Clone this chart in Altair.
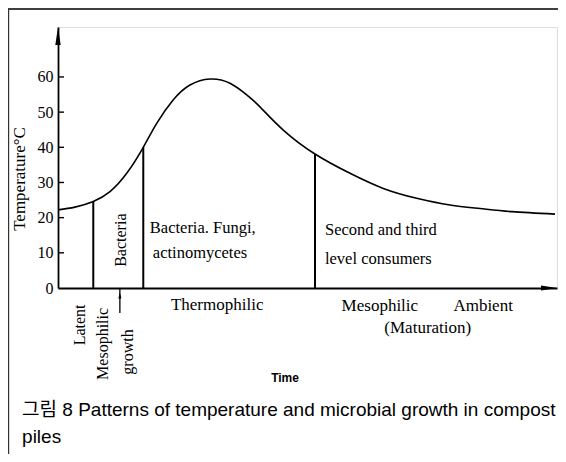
import altair as alt
import pandas as pd

# Curve: time (arbitrary units 0-100) vs temperature (deg C)
time_pts = [0, 3.4, 7.07, 10.42, 13.77, 17.09, 19.78, 23.11, 26.45, 30.46, 34.47, 37.82, 40.48,
            45.15, 51.5, 58.52, 65.19, 71.88, 78.56, 84.57, 91.0, 99.6]
temp_pts = [22.2, 23.0, 24.6, 27.4, 32.6, 40.0, 46.8, 53.5, 57.7, 59.4, 58.2, 54.9, 51.5,
            44.9, 38.1, 32.6, 28.3, 25.5, 23.6, 22.6, 21.7, 21.0]

# Phase boundaries (time, temperature at the curve)
bound_t = [7.07, 17.09, 51.5]
bound_temp = [24.6, 40.0, 38.1]

y_ticks = [10, 20, 30, 40, 50, 60]

# Horizontal labels inside / below plot
h_text = ["Bacteria. Fungi,", "actinomycetes", "Second and third", "level consumers"]
h_t = [18.4, 19.0, 53.5, 53.5]
h_temp = [17.1, 10.0, 16.5, 8.2]

c_text = ["Thermophilic", "Mesophilic", "Ambient", "(Maturation)"]
c_t = [31.9, 64.5, 85.2, 74.1]
c_temp = [-4.8, -5.1, -5.1, -11.4]

r_text = ["Bacteria", "Latent", "Mesophilic", "growth"]
r_t = [12.6, 4.4, 9.0, 14.0]
r_temp = [13.6, -10.5, -15.9, -18.2]

caption1 = "그림 8  Patterns of temperature and microbial growth in compost"
caption2 = "piles"

XMAX = 100
YMAX = 74.2
SERIF = "Liberation Serif"
SANS = "Liberation Sans, Noto Sans CJK KR"

xs = alt.Scale(domain=[0, XMAX], nice=False, zero=False)
ys = alt.Scale(domain=[0, YMAX], nice=False, zero=False)

curve_df = pd.DataFrame({"t": time_pts, "T": temp_pts})
bound_df = pd.DataFrame({"t": bound_t, "T": bound_temp, "z": [0] * 3})
tick_df = pd.DataFrame({"T": y_ticks, "a": [0] * 6, "b": [1.2] * 6})
h_df = pd.DataFrame({"txt": h_text, "t": h_t, "T": h_temp})
c_df = pd.DataFrame({"txt": c_text, "t": c_t, "T": c_temp})
r_df = pd.DataFrame({"txt": r_text, "t": r_t, "T": r_temp})

base_axes = alt.Chart(pd.DataFrame({"t": [0, XMAX], "T": [0, YMAX]})).mark_point(opacity=0).encode(
    x=alt.X("t:Q", scale=xs, axis=alt.Axis(title=None, labels=False, ticks=False, grid=False,
                                            domainColor="black", domainWidth=1.8)),
    y=alt.Y("T:Q", scale=ys, axis=alt.Axis(title=None, values=[0] + y_ticks, grid=False, tickSize=0,
                                            labelFont=SERIF, labelFontSize=16, labelColor="black",
                                            labelPadding=5, domainColor="black", domainWidth=1.8)),
)

curve = alt.Chart(curve_df).mark_line(color="black", strokeWidth=1.6, interpolate="natural").encode(
    x=alt.X("t:Q", scale=xs), y=alt.Y("T:Q", scale=ys))

bounds = alt.Chart(bound_df).mark_rule(color="black", strokeWidth=2).encode(
    x=alt.X("t:Q", scale=xs), y=alt.Y("z:Q", scale=ys), y2="T:Q")

ticks = alt.Chart(tick_df).mark_rule(color="black", strokeWidth=1.4).encode(
    x=alt.X("a:Q", scale=xs), x2="b:Q", y=alt.Y("T:Q", scale=ys))

arrow_y = alt.Chart(pd.DataFrame({"t": [0], "T": [YMAX]})).mark_point(
    shape="M0,0L0.3,2L-0.3,2Z", filled=True, color="black", opacity=1, size=324).encode(
    x=alt.X("t:Q", scale=xs), y=alt.Y("T:Q", scale=ys))

arrow_x = alt.Chart(pd.DataFrame({"t": [XMAX], "T": [0]})).mark_point(
    shape="M0,0L-2,-0.3L-2,0.3Z", filled=True, color="black", opacity=1, size=256).encode(
    x=alt.X("t:Q", scale=xs), y=alt.Y("T:Q", scale=ys))

growth_arrow = alt.Chart(pd.DataFrame({"t": [12.4], "a": [0], "b": [-7.1]})).mark_rule(
    color="black", strokeWidth=1.3).encode(x=alt.X("t:Q", scale=xs), y=alt.Y("a:Q", scale=ys), y2="b:Q")
growth_head = alt.Chart(pd.DataFrame({"t": [12.4], "T": [-1.3]})).mark_point(
    shape="M0,0L0.5,2L-0.5,2Z", filled=True, color="black", opacity=1, size=36).encode(
    x=alt.X("t:Q", scale=xs), y=alt.Y("T:Q", scale=ys))

h_txt = alt.Chart(h_df).mark_text(font=SERIF, fontSize=16.5, align="left", baseline="middle", color="black").encode(
    x=alt.X("t:Q", scale=xs), y=alt.Y("T:Q", scale=ys), text="txt:N")
c_txt = alt.Chart(c_df).mark_text(font=SERIF, fontSize=17, align="center", baseline="middle", color="black").encode(
    x=alt.X("t:Q", scale=xs), y=alt.Y("T:Q", scale=ys), text="txt:N")
r_txt = alt.Chart(r_df).mark_text(font=SERIF, fontSize=16, align="center", baseline="middle", angle=270,
                                  color="black").encode(
    x=alt.X("t:Q", scale=xs), y=alt.Y("T:Q", scale=ys), text="txt:N")

ytitle = alt.Chart(pd.DataFrame({"t": [-7.6], "T": [31.0], "txt": ["Temperature°C"]})).mark_text(
    font=SERIF, fontSize=17, align="center", baseline="middle", angle=270, color="black").encode(
    x=alt.X("t:Q", scale=xs), y=alt.Y("T:Q", scale=ys), text="txt:N")

time_lbl = alt.Chart(pd.DataFrame({"t": [45.5], "T": [-25.6], "txt": ["Time"]})).mark_text(
    font="Liberation Sans", fontSize=12, fontWeight="bold", align="center", baseline="middle",
    color="black").encode(x=alt.X("t:Q", scale=xs), y=alt.Y("T:Q", scale=ys), text="txt:N")

cap = alt.Chart(pd.DataFrame({"t": [-7.2, -7.2], "T": [-34.7, -42.4], "txt": [caption1, caption2]})).mark_text(
    font=SANS, fontSize=19, align="left", baseline="middle", color="black").encode(
    x=alt.X("t:Q", scale=xs), y=alt.Y("T:Q", scale=ys), text="txt:N")

border_top = alt.Chart(pd.DataFrame({"a": [0]})).mark_rule(color="black", strokeWidth=1.5).encode(
    x=alt.value(-50), x2=alt.value(500), y=alt.value(-18))
border_left = alt.Chart(pd.DataFrame({"a": [0]})).mark_rule(color="#333", strokeWidth=1.2).encode(
    x=alt.value(-49.4), y=alt.value(-18), y2=alt.value(427))

chart = alt.layer(
    base_axes, border_top, border_left, curve, bounds, ticks, arrow_y, arrow_x, growth_arrow, growth_head,
    h_txt, c_txt, r_txt, ytitle, time_lbl, cap,
).properties(
    width=499, height=261,
    padding={"left": 50, "top": 19, "right": 1, "bottom": 166},
    autosize=alt.AutoSizeParams(type="none"),
).configure_view(stroke=None).configure(background="white")

chart.save("out.html", embed_options={"renderer": "svg", "actions": False})
